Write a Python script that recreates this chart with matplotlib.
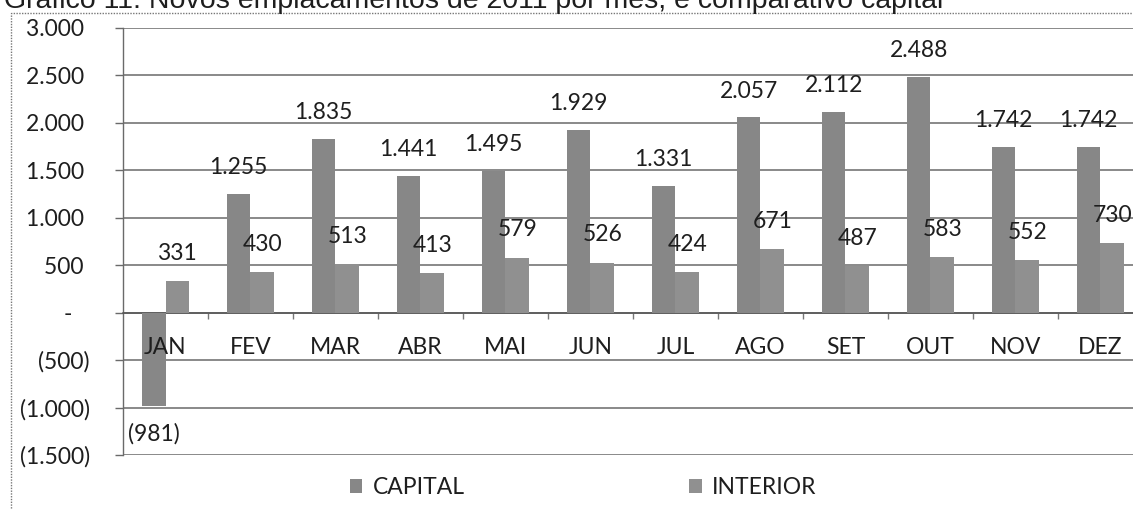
import matplotlib
matplotlib.use("Agg")
import matplotlib.pyplot as plt
from matplotlib.patches import Rectangle
import numpy as np

months = ["JAN", "FEV", "MAR", "ABR", "MAI", "JUN", "JUL", "AGO", "SET", "OUT", "NOV", "DEZ"]
capital = [-981, 1255, 1835, 1441, 1495, 1929, 1331, 2057, 2112, 2488, 1742, 1742]
interior = [331, 430, 513, 413, 579, 526, 424, 671, 487, 583, 552, 730]
yticks = [-1500, -1000, -500, 0, 500, 1000, 1500, 2000, 2500, 3000]
ytick_labels = ["(1.500)", "(1.000)", "(500)", "-   ", "500 ", "1.000 ", "1.500 ", "2.000 ", "2.500 ", "3.000 "]
title = "Gráfico 11: Novos emplacamentos de 2011 por mês, e comparativo capital"

def fmt(v):
    s = f"{abs(v):,}".replace(",", ".")
    return f"({s})" if v < 0 else s

FONT = "Lato"
FS = 16.5
TXT = "#1e1e1e"
W, H = 1133, 509
fig = plt.figure(figsize=(W / 100, H / 100), dpi=100)
ax = fig.add_axes([123 / W, 1 - 455 / H, 1020 / W, (455 - 28) / H])

x = np.arange(len(months))
bw = 0.277
cap_color = "#878787"
int_color = "#909090"
ax.bar(x - bw / 2, capital, bw, color=cap_color, label="CAPITAL", zorder=3)
ax.bar(x + bw / 2, interior, bw, color=int_color, label="INTERIOR", zorder=3)

for xi, v in zip(x, capital):
    off = 19 if v >= 0 else -20
    ax.annotate(fmt(v), (xi - bw / 2, v), xytext=(0, off), textcoords="offset points",
                ha="center", va="center", fontsize=FS, family=FONT, color=TXT, zorder=5)
for xi, v in zip(x, interior):
    ax.annotate(fmt(v), (xi + bw / 2, v), xytext=(0, 20), textcoords="offset points",
                ha="center", va="center", fontsize=FS, family=FONT, color=TXT, zorder=5)

# category labels drawn next to the zero line, above the bars
for xi, m in zip(x, months):
    ax.annotate(m, (xi, 0), xytext=(0, -25), textcoords="offset points",
                ha="center", va="center", fontsize=FS, family=FONT, color=TXT, zorder=5)

ax.set_xlim(-0.5, len(months) - 0.5)
ax.set_ylim(-1500, 3000)
ax.set_yticks(yticks)
ax.set_yticklabels(ytick_labels, fontsize=FS, family=FONT, color=TXT)
ax.yaxis.grid(True, color="#6a6a6a", linewidth=1.1)
ax.set_axisbelow(True)
ax.tick_params(axis="y", length=6, width=1, color="#6a6a6a", pad=18)

ax.spines["bottom"].set_position(("data", 0))
ax.spines["bottom"].set_color("#555555")
ax.spines["bottom"].set_linewidth(1.1)
for s in ["top", "right"]:
    ax.spines[s].set_visible(False)
ax.spines["left"].set_color("#6a6a6a")
ax.spines["left"].set_linewidth(1.0)
ax.set_xticks(x)
ax.set_xticklabels([])
ax.set_xticks(np.arange(0.5, len(months) - 0.5, 1), minor=True)
ax.tick_params(axis="x", which="major", length=0)
ax.tick_params(axis="x", which="minor", length=4, width=1, color="#777777")

fig.legend(loc="center", bbox_to_anchor=(583 / W, 1 - 488 / H), ncol=2, frameon=False,
           prop={"family": FONT, "size": FS}, handlelength=0.55, handleheight=0.55,
           handletextpad=0.45, columnspacing=9.8, labelcolor=TXT)

# outer dotted frame of the scanned figure
fig.add_artist(Rectangle((11 / W, -0.1), 1.2, 1 - 13 / H + 0.1, transform=fig.transFigure,
                         fill=False, edgecolor="#777777", linestyle=(0, (1, 1)), linewidth=1.0))
fig.text(4 / W, 1 - 8 / H, title, family="Liberation Sans", fontsize=20.5, ha="left",
         va="baseline", color=TXT)

fig.savefig("out.png", dpi=100)
